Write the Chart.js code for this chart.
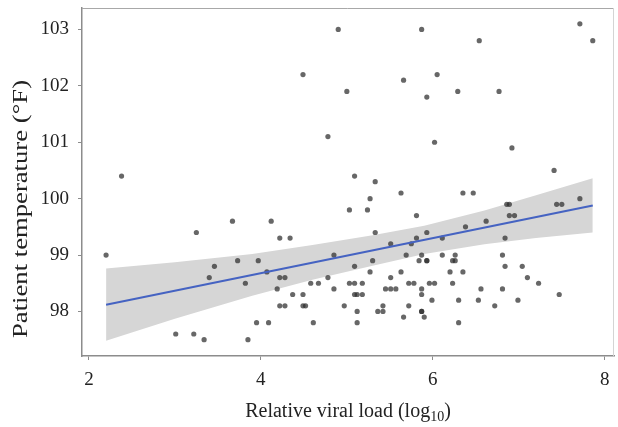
<!DOCTYPE html>
<html>
<head>
<meta charset="utf-8">
<script src="https://cdn.jsdelivr.net/npm/chart.js@4.4.1/dist/chart.umd.min.js"></script>
<style>
  html, body { margin: 0; padding: 0; background: #fff; }
  #wrap { width: 618px; height: 427px; }
</style>
</head>
<body>
<div id="wrap"><canvas id="chart" width="618" height="427"></canvas></div>
<script>
// patients: relative viral load (log10) vs temperature (F)
const viralLoad = [
  2.38, 4.49, 4.90, 4.78, 5.87, 6.54, 7.71, 7.86, 5.66, 6.05, 5.00, 5.93, 6.29, 6.77, 6.02, 6.92,
  5.09, 5.33, 7.41, 5.63, 6.35, 6.47, 5.27, 7.71,
  2.20, 3.25, 3.46, 3.40, 3.01, 3.22, 3.34, 3.67, 4.12, 4.22, 4.34, 3.73, 3.97, 4.07, 3.82, 4.22,
  4.28, 4.19, 4.37, 4.49, 4.22, 4.28, 4.49, 4.52, 4.58, 4.67, 4.78, 4.85, 4.85, 3.95, 4.09, 4.61, 3.85,
  5.03, 5.24, 5.81, 5.33, 5.93, 5.51, 5.81, 5.75, 5.69, 5.87, 5.30, 5.84, 5.93, 5.93, 5.09, 5.27,
  5.63, 5.51, 5.03, 5.09, 5.18, 5.45, 5.51, 5.57, 5.72, 5.78, 5.96, 6.02, 5.87, 5.09, 5.12, 5.18,
  5.87, 5.99, 4.97, 5.42, 5.72, 5.12, 5.36, 5.42, 5.87, 5.87, 5.66, 5.90, 5.12,
  6.86, 6.89, 6.89, 6.95, 6.62, 6.38, 6.11, 6.84, 6.11, 6.26, 6.81, 6.23, 6.26, 6.84, 7.04, 6.20,
  6.35, 7.10, 6.23, 6.56, 6.81, 6.30, 6.53, 6.72, 6.99, 6.30, 7.44, 7.50, 7.23, 7.47
];
const temperature = [
  100.4, 102.2, 103.0, 101.1, 103.0, 102.8, 103.1, 102.8, 102.1, 102.2, 101.9, 101.8, 101.9, 101.9, 101.0, 100.9,
  100.4, 100.3, 100.5, 100.1, 100.1, 100.1, 100.0, 100.0,
  99.0, 99.4, 98.8, 98.6, 97.6, 97.6, 97.5, 99.6, 99.6, 99.3, 99.3, 98.9, 98.9, 98.7, 98.5, 98.6,
  98.6, 98.4, 98.3, 98.3, 98.1, 98.1, 98.1, 98.1, 98.5, 98.5, 98.6, 99.0, 98.4, 97.8, 97.8, 97.8, 97.5,
  99.8, 99.8, 99.7, 99.4, 99.4, 99.2, 99.3, 99.2, 99.0, 99.0, 98.9, 98.9, 98.9, 98.9, 98.8, 98.7,
  98.7, 98.6, 98.5, 98.5, 98.5, 98.4, 98.4, 98.4, 98.5, 98.5, 98.5, 98.5, 98.4, 98.3, 98.3, 98.3,
  98.3, 98.2, 98.1, 98.1, 98.1, 98.0, 98.0, 98.0, 98.0, 98.0, 97.9, 97.9, 97.8,
  99.9, 99.9, 99.7, 99.7, 99.6, 99.5, 99.3, 99.3, 99.0, 99.0, 99.0, 98.9, 98.9, 98.8, 98.8, 98.7,
  98.7, 98.6, 98.5, 98.4, 98.4, 98.2, 98.2, 98.1, 98.2, 97.8, 99.9, 99.9, 98.5, 98.3
];

// fitted line and its confidence band
const fitX = [2.2, 7.86];
const fitY = [98.12, 99.88];
const bandX     = [2.2,   3.0,   3.9,   4.6,   5.3,   5.9,   6.6,   7.2,    7.86];
const bandUpper = [98.76, 98.87, 99.02, 99.18, 99.35, 99.52, 99.79, 100.06, 100.36];
const bandLower = [97.48, 97.87, 98.28, 98.56, 98.81, 99.02, 99.19, 99.30,  99.40];

const xTicks = [2, 4, 6, 8];
const yTicks = [98, 99, 100, 101, 102, 103];

const FONT = '"Liberation Serif", "DejaVu Serif", serif';
const AXIS_GREY = '#8c8c8c';
const TEXT = '#222';

const toXY = ( xs, ys ) => xs.map( ( x, i ) => ( { x, y: ys[ i ] } ) );

// panel box + axis titles (x title needs a real subscript, y title is set wide)
const panelPlugin = {
  id: 'panel',
  beforeDatasetsDraw( chart ) {
    const { ctx, chartArea: a } = chart;
    ctx.save();
    ctx.lineWidth = 1;
    ctx.strokeStyle = '#a8a8a8';
    ctx.beginPath();
    ctx.moveTo( a.left, a.top + 0.5 );
    ctx.lineTo( a.right - 0.5, a.top + 0.5 );
    ctx.stroke();
    ctx.strokeStyle = '#d4d4d4';
    ctx.beginPath();
    ctx.moveTo( a.right - 0.5, a.top + 0.5 );
    ctx.lineTo( a.right - 0.5, a.bottom );
    ctx.stroke();
    ctx.restore();
  },
  afterDraw( chart ) {
    const { ctx, chartArea: a } = chart;
    ctx.save();
    ctx.fillStyle = TEXT;
    ctx.textBaseline = 'alphabetic';
    const main = 'Relative viral load (log';
    const sub = '10';
    const close = ')';
    ctx.font = '20px ' + FONT;
    const wMain = ctx.measureText( main ).width;
    const wClose = ctx.measureText( close ).width;
    ctx.font = '14px ' + FONT;
    const wSub = ctx.measureText( sub ).width;
    let x = ( a.left + a.right ) / 2 - ( wMain + wSub + wClose ) / 2;
    const y = 417;
    ctx.font = '20px ' + FONT;
    ctx.fillText( main, x, y );
    x += wMain;
    ctx.font = '14px ' + FONT;
    ctx.fillText( sub, x, y + 4 );
    x += wSub;
    ctx.font = '20px ' + FONT;
    ctx.fillText( close, x, y );
    ctx.restore();

    ctx.save();
    ctx.translate( 21, 209 );
    ctx.rotate( -Math.PI / 2 );
    ctx.scale( 1.27, 1 );
    ctx.fillStyle = TEXT;
    ctx.font = '21px ' + FONT;
    ctx.textAlign = 'center';
    ctx.textBaseline = 'middle';
    ctx.fillText( 'Patient temperature (°F)', 0, 0 );
    ctx.restore();
  },
};

const noEdgePadding = ( s ) => {
  s.paddingTop = 0;
  s.paddingBottom = 0;
  s.paddingLeft = 0;
  s.paddingRight = 0;
};

new Chart( document.getElementById( 'chart' ), {
  type: 'scatter',
  data: {
    datasets: [
      {
        type: 'line',
        data: toXY( fitX, fitY ),
        borderColor: '#4563c2',
        borderWidth: 2,
        pointRadius: 0,
        fill: false,
        order: 0,
      },
      {
        data: toXY( viralLoad, temperature ),
        backgroundColor: 'rgba(45,45,45,0.72)',
        borderWidth: 0,
        pointRadius: 2.6,
        order: 1,
      },
      {
        type: 'line',
        data: toXY( bandX, bandUpper ),
        borderWidth: 0,
        pointRadius: 0,
        backgroundColor: '#d6d6d6',
        fill: '+1',
        order: 2,
      },
      {
        type: 'line',
        data: toXY( bandX, bandLower ),
        borderWidth: 0,
        pointRadius: 0,
        fill: false,
        order: 3,
      },
    ],
  },
  options: {
    responsive: false,
    devicePixelRatio: 1,
    animation: false,
    layout: { padding: { top: 8, right: 2, left: 0, bottom: 0 } },
    plugins: { legend: { display: false }, tooltip: { enabled: false } },
    scales: {
      x: {
        type: 'linear',
        min: 1.92,
        max: 8.107,
        afterBuildTicks: ( s ) => { s.ticks = xTicks.map( ( v ) => ( { value: v } ) ); },
        afterFit: ( s ) => { s.height = 71; noEdgePadding( s ); },
        grid: { display: true, drawOnChartArea: false, drawTicks: true, tickLength: 4, color: AXIS_GREY },
        border: { display: true, color: AXIS_GREY, width: 1.5 },
        ticks: { color: TEXT, font: { family: FONT, size: 19 }, padding: 9, maxRotation: 0 },
      },
      y: {
        type: 'linear',
        min: 97.21,
        max: 103.38,
        afterBuildTicks: ( s ) => { s.ticks = yTicks.map( ( v ) => ( { value: v } ) ); },
        afterFit: ( s ) => { s.width = 82; noEdgePadding( s ); },
        grid: { display: true, drawOnChartArea: false, drawTicks: true, tickLength: 4, color: AXIS_GREY },
        border: { display: true, color: AXIS_GREY, width: 1.5 },
        ticks: { color: TEXT, font: { family: FONT, size: 19 }, padding: 9 },
      },
    },
  },
  plugins: [ panelPlugin ],
} );
</script>
</body>
</html>
